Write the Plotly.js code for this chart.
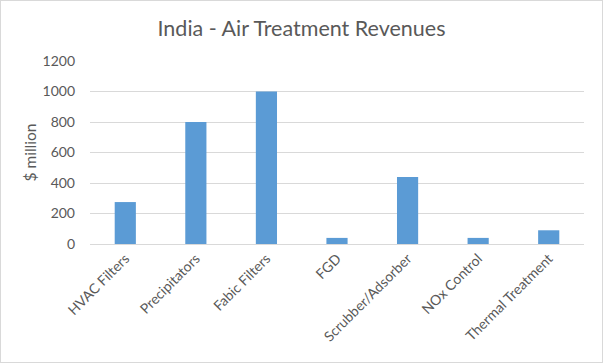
<!DOCTYPE html>
<html>
<head>
<meta charset="utf-8">
<script src="https://cdn.plot.ly/plotly-3.0.1.min.js"></script>
<style>
html,body{margin:0;padding:0;background:#fff;}
#chart{width:603px;height:363px;box-sizing:border-box;border:1px solid #d9d9d9;}
</style>
</head>
<body>
<div id="chart"></div>
<script>
var categories = ["HVAC Filters", "Precipitators", "Fabic Filters", "FGD", "Scrubber/Adsorber", "NOx Control", "Thermal Treatment"];
var revenues = [275, 800, 1000, 40, 440, 40, 90];
var yTicks = [0, 200, 400, 600, 800, 1000, 1200];

var trace = {
  type: "bar",
  x: categories,
  y: revenues,
  marker: {color: "#5b9bd5"},
  hoverinfo: "x+y"
};

var layout = {
  width: 601,
  height: 361,
  margin: {l: 89, r: 18, t: 60, b: 118, pad: 0},
  paper_bgcolor: "#ffffff",
  plot_bgcolor: "#ffffff",
  font: {family: "Lato, 'Open Sans', sans-serif", color: "#595959", size: 13},
  title: {
    text: "India - Air Treatment Revenues",
    font: {family: "Lato, 'Open Sans', sans-serif", size: 21.5, color: "#595959"},
    x: 0.5, xanchor: "center", y: 0.925, yanchor: "middle"
  },
  bargap: 0.7,
  showlegend: false,
  xaxis: {
    type: "category",
    tickangle: -45,
    showgrid: false,
    showline: true,
    linecolor: "#d9d9d9",
    ticks: "",
    tickfont: {size: 14, color: "#595959"},
    automargin: false
  },
  yaxis: {
    range: [0, 1200],
    tickvals: yTicks,
    ticktext: yTicks.map(String),
    showgrid: true,
    gridcolor: "#d9d9d9",
    zeroline: false,
    showline: false,
    ticks: "",
    ticklabelstandoff: 14,
    tickfont: {size: 14, color: "#595959"},
    title: {text: "$ million", font: {size: 15.5, color: "#595959"}, standoff: 2},
    automargin: false
  }
};

Plotly.newPlot("chart", [trace], layout, {displayModeBar: false, staticPlot: true});
</script>
</body>
</html>
